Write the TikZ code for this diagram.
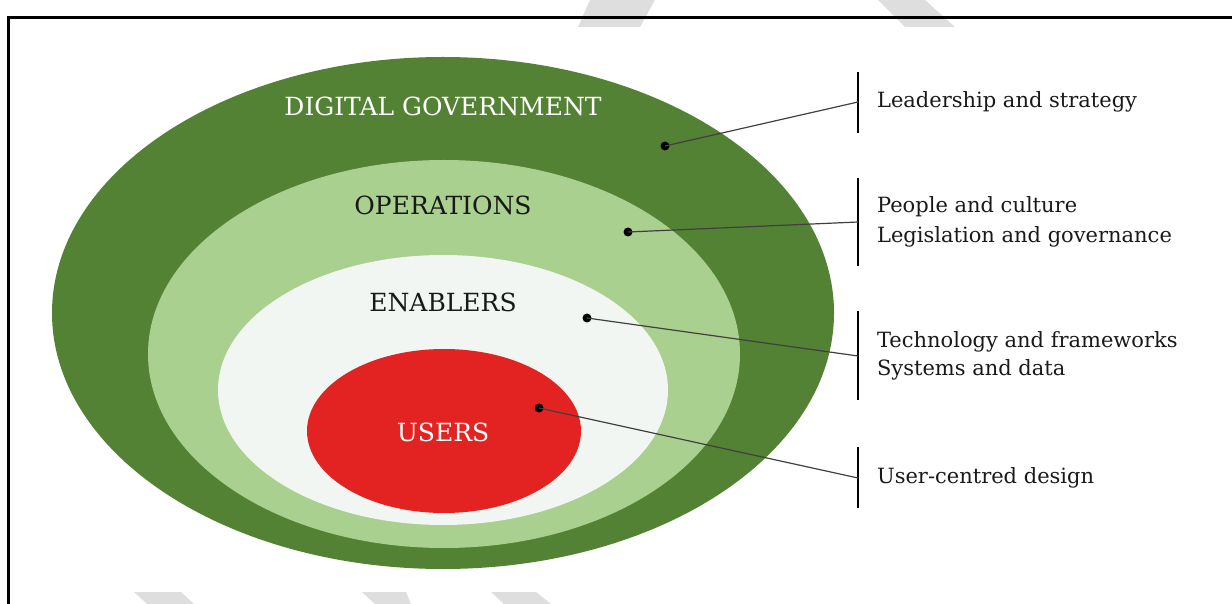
\documentclass[tikz,border=0pt]{standalone}
\usepackage{fontspec}
\setmainfont{DejaVu Serif}
\usetikzlibrary{positioning}

\definecolor{govgreen}{RGB}{84,130,53}
\definecolor{opsgreen}{RGB}{169,208,142}
\definecolor{enabwhite}{RGB}{242,246,242}
\definecolor{userred}{RGB}{227,35,33}
\definecolor{markgrey}{RGB}{222,222,222}

\tikzset{
  dot/.style={circle,fill=black,inner sep=0pt,minimum size=4.5pt},
  ring/.style={font=\fontsize{12.5}{14}\selectfont,text=black!90},
  item/.style={anchor=west,align=left,font=\fontsize{10.5}{15}\selectfont,text=black!90},
  bar/.style={line width=1pt},
  lead/.style={line width=0.6pt,black!75}
}

\begin{document}
\begin{tikzpicture}[x=0.5pt,y=-0.5pt]%
        \useasboundingbox (0,0) rectangle (1232,604);
        \fill[markgrey] (590,0) -- (655,0) -- (640,27) -- (578,27) -- cycle;
        \fill[markgrey] (878,0) -- (925,0) -- (955,27) -- (905,27) -- cycle;
        \fill[markgrey] (134,592) -- (181,592) -- (194,604) -- (147,604) -- cycle;
        \fill[markgrey] (362,592) -- (406,592) -- (411,604) -- (375,604) -- cycle;
        \fill[markgrey] (491,592) -- (536,592) -- (551,604) -- (504,604) -- cycle;
        \draw[line width=1.5pt] (8,604) -- (8,18) -- (1232,18);

        \fill[govgreen] (443,313) ellipse [x radius=391, y radius=256];
        \fill[opsgreen] (444,354) ellipse [x radius=296, y radius=194];
        \fill[enabwhite] (443,390) ellipse [x radius=225, y radius=135];
        \fill[userred] (444,431) ellipse [x radius=137, y radius=82];

        \node[ring,text=white] (dg) at (443,106) {DIGITAL GOVERNMENT};
        \node[ring] (ops) at (443,205) {OPERATIONS};
        \node[ring] (enab) at (443,302) {ENABLERS};
        \node[ring,text=white] (users) at (443,432) {USERS};

        \node[dot] (dgdot) at (665,146) {};
        \node[dot] (opsdot) at (628,232) {};
        \node[dot] (enabdot) at (587,318) {};
        \node[dot] (usersdot) at (539,408) {};

        \draw[bar] (858,72) -- (858,133);
        \draw[bar] (858,178) -- (858,266);
        \draw[bar] (858,311) -- (858,400);
        \draw[bar] (858,447) -- (858,508);
        \coordinate (dgbar) at (858,102);
        \coordinate (opsbar) at (858,222);
        \coordinate (enabbar) at (858,356);
        \coordinate (usersbar) at (858,478);

        \draw[lead] (dgdot.center) -- (dgbar);
        \draw[lead] (opsdot.center) -- (opsbar);
        \draw[lead] (enabdot.center) -- (enabbar);
        \draw[lead] (usersdot.center) -- (usersbar);

        \node[item,right=6pt of dgbar] (dgtext) {Leadership and strategy};
        \node[item,right=6pt of opsbar] (opstext) {People and culture\\Legislation and governance};
        \node[item,right=6pt of enabbar,font=\fontsize{10.5}{14}\selectfont] (enabtext) {Technology and frameworks\\Systems and data};
        \node[item,right=6pt of usersbar] (userstext) {User-centred design};
\end{tikzpicture}
\end{document}
